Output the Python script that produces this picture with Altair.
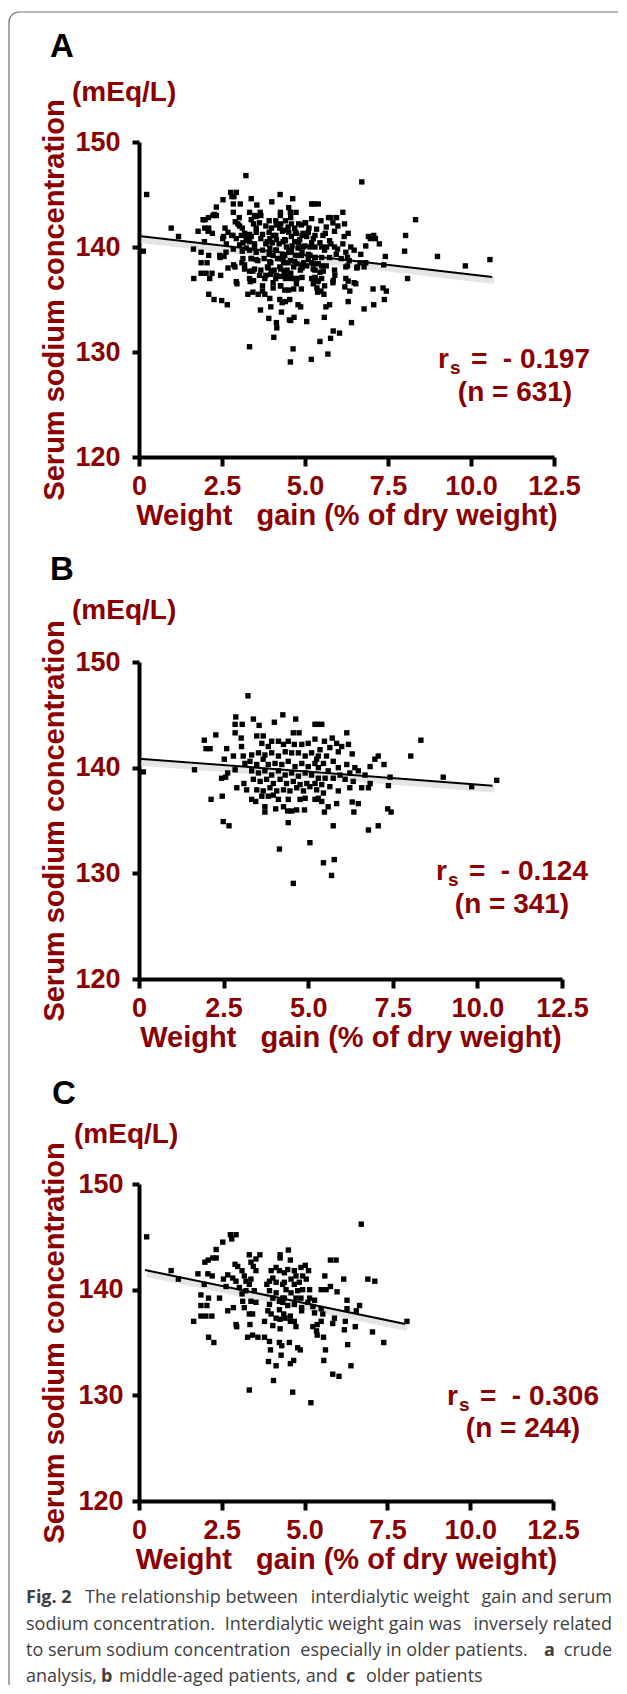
import altair as alt
import pandas as pd

# ---------------- data ----------------
# Panel C (older patients)
c_x = [0.23, 0.97, 1.19, 1.78, 1.99, 2.09, 2.33, 2.53, 2.76, 2.93, 2.80, 2.23, 2.33, 2.08, 2.21,
       1.97, 1.87, 2.10, 2.43, 1.87, 2.05, 1.87, 2.02, 2.20, 1.65, 2.10, 2.26, 2.68, 2.85, 2.93,
       2.95, 2.55, 2.63, 2.68, 2.83, 2.90, 2.98, 2.93, 3.03, 3.11, 3.13, 3.18, 3.11, 3.18, 3.23,
       3.33, 3.38, 3.45, 3.53, 3.65, 3.53, 3.38, 3.33, 3.23, 3.48, 3.38, 3.53, 3.33, 3.43, 3.35,
       3.28, 3.43, 3.59, 3.79, 3.33, 3.79, 3.89, 3.94, 3.99, 4.04, 3.94, 3.86, 3.94, 4.04, 4.14,
       3.99, 4.14, 4.26, 4.26, 4.24, 4.34, 4.14, 4.24, 4.24, 4.14, 4.26, 4.04, 4.26, 3.94, 4.24,
       4.31, 3.97, 4.29, 3.91, 4.14, 4.06, 4.34,
       6.71, 4.51, 4.57, 5.78, 5.95, 5.02, 5.12, 4.89, 4.69, 4.49, 4.39, 4.74, 4.94, 5.05, 4.59,
       4.69, 4.84, 4.39, 4.44, 4.59, 4.79, 4.94, 5.15, 5.61, 5.50, 5.65, 5.78, 5.98, 6.18, 6.91,
       7.12, 4.39, 4.74, 4.89, 5.15, 5.30, 6.28, 6.66, 4.34, 4.49, 4.69, 4.91, 5.10, 5.25, 5.50,
       6.28, 6.56, 4.91, 4.37, 4.57, 5.30, 5.55, 4.41, 4.57, 4.69, 5.50, 5.90, 6.23, 5.85, 4.74,
       5.25, 5.38, 6.20, 6.53, 5.36, 5.38, 5.57, 7.05, 7.39, 4.54, 4.79, 4.87, 5.63, 6.30, 4.67,
       4.57, 5.58, 6.40, 5.85, 6.04, 4.64, 5.19, 8.09]
c_y = [145.0, 141.8, 141.0, 141.5, 142.6, 142.8, 143.8, 144.5, 145.2, 145.2, 144.8, 143.0, 143.0, 141.5, 141.3,
       140.5, 139.5, 139.2, 139.2, 138.5, 138.5, 137.5, 137.5, 137.5, 137.0, 135.5, 135.0, 138.0, 138.3, 136.7,
       136.5, 141.0, 140.3, 141.4, 141.1, 142.4, 142.2, 140.8, 140.2, 139.6, 138.9, 138.3, 141.8, 141.3, 140.8,
       143.3, 142.6, 142.2, 142.9, 143.3, 141.8, 141.0, 140.5, 139.9, 139.9, 138.9, 138.8, 137.7, 137.7, 136.7,
       135.5, 135.7, 135.5, 135.5, 130.5, 137.0, 138.0, 138.6, 137.7, 139.2, 139.9, 140.5, 140.8, 141.1, 140.7,
       141.8, 142.1, 143.3, 143.0, 141.8, 140.5, 139.7, 138.9, 138.1, 137.3, 137.2, 136.6, 136.3, 135.1, 135.0,
       134.7, 134.3, 133.8, 133.2, 132.8, 131.4, 139.2,
       146.2, 143.75, 142.8, 142.8, 142.8, 142.3, 141.8, 142.1, 141.8, 141.9, 141.6, 141.3, 141.3, 141.0, 141.0,
       140.5, 140.7, 140.7, 140.0, 139.7, 139.9, 140.0, 140.0, 141.3, 140.0, 140.0, 140.3, 139.8, 141.0, 141.0,
       140.8, 139.2, 139.2, 139.2, 139.2, 139.0, 139.0, 138.5, 138.8, 138.5, 138.6, 138.3, 138.8, 138.4, 138.2,
       138.2, 138.0, 138.0, 137.7, 137.5, 137.8, 137.7, 137.3, 137.0, 137.0, 137.0, 137.3, 137.0, 136.8, 136.5,
       136.5, 136.7, 136.2, 136.5, 136.1, 135.7, 135.5, 136.0, 135.0, 135.0, 134.5, 134.3, 134.3, 134.8, 133.3,
       133.0, 133.3, 132.8, 132.0, 131.8, 130.3, 129.3, 137.0]

# Panel B (middle-aged patients)
b_x = [0.13, 1.64, 1.93, 1.98, 2.10, 2.27, 2.13, 2.46, 2.59, 2.52, 2.44, 2.56, 2.62, 2.49, 2.66,
       2.79, 2.84, 2.89, 2.86, 2.84, 3.05, 2.84, 3.02, 3.03, 3.08, 3.13, 3.10, 3.18, 3.38, 3.55,
       4.00, 4.25, 4.63, 4.56, 4.73, 5.20, 5.28, 3.48, 3.67, 3.63, 3.82, 3.92, 4.12, 4.27, 4.41,
       4.59, 4.81, 5.00, 5.20,
       3.33, 3.53, 3.72, 3.92, 4.12, 4.32, 4.51, 4.71, 4.91, 5.10, 5.30,
       3.28, 3.48, 3.67, 3.82, 4.02, 4.22, 4.41, 4.61, 4.81, 5.00, 5.20,
       3.33, 3.53, 3.72, 3.92, 4.12, 4.32, 4.51, 4.71, 4.91, 5.10,
       3.38, 3.58, 3.77, 3.97, 4.17, 4.36, 4.56, 4.76, 4.96, 5.20,
       3.48, 3.67, 3.87, 4.07, 4.27, 4.46, 4.66, 4.86, 5.05,
       3.33, 3.45, 3.63, 3.82, 3.97, 4.12, 4.41, 4.76, 4.91, 5.20, 5.30,
       3.72, 3.72, 4.04, 4.27, 4.39, 4.51, 4.66, 4.89,
       4.41, 5.05, 4.15, 4.56, 3.22,
       5.40, 6.14, 8.33, 5.71, 5.48, 5.84, 5.99, 6.19, 5.64, 5.35, 5.89, 6.30, 5.54, 7.07, 6.97,
       8.03, 5.25, 5.45, 5.74, 6.14, 6.83, 7.24, 5.30, 5.59, 5.89, 6.38, 6.48, 5.94, 6.23, 6.68,
       7.42, 8.99, 10.57, 9.83, 5.30, 5.50, 5.74, 6.09, 6.33, 6.83, 7.37, 5.40, 5.64, 6.23, 6.58,
       6.78, 5.25, 5.89, 5.45, 5.30, 5.40, 5.84, 5.59, 6.30, 6.48, 5.48, 6.35, 7.35, 7.45, 5.74,
       7.07, 6.78, 5.45, 5.77, 5.69]
b_y = [139.6, 139.8, 142.6, 141.8, 141.8, 143.1, 137.0, 137.3, 141.8, 140.8, 139.0, 139.1, 139.5, 134.9, 134.5,
       141.1, 139.8, 138.1, 144.8, 144.1, 144.1, 143.3, 142.8, 142.0, 141.1, 140.4, 138.5, 137.9, 144.6, 144.0,
       144.3, 145.0, 144.6, 143.3, 143.3, 144.1, 144.1, 143.0, 143.0, 142.3, 142.0, 142.5, 142.5, 142.2, 142.5,
       142.2, 142.2, 142.3, 142.7,
       141.2, 141.4, 141.2, 141.4, 141.1, 141.5, 141.4, 141.4, 141.1, 141.4, 141.1,
       140.6, 140.3, 140.8, 140.3, 140.4, 140.3, 140.6, 140.1, 140.4, 140.1, 140.4,
       139.7, 139.5, 139.7, 139.3, 139.7, 139.3, 139.5, 139.2, 139.5, 139.3,
       138.9, 138.7, 138.9, 138.5, 138.9, 138.5, 138.7, 138.4, 138.5, 138.5,
       137.9, 137.8, 138.1, 137.8, 137.9, 137.8, 138.1, 137.8, 138.2,
       137.0, 136.8, 137.3, 137.3, 137.4, 137.0, 137.0, 137.0, 137.1, 137.0, 137.1,
       136.3, 135.8, 136.1, 136.3, 135.9, 135.9, 136.0, 136.0,
       134.8, 132.9, 132.3, 129.05, 146.8,
       144.1, 143.3, 142.6, 142.8, 142.5, 142.3, 142.0, 142.2, 141.9, 141.7, 141.5, 141.3, 141.1, 141.1, 140.8,
       141.1, 140.8, 140.4, 140.6, 140.3, 140.1, 140.3, 140.0, 139.7, 140.0, 140.0, 139.7, 139.3, 139.5, 139.3,
       139.1, 139.1, 138.8, 138.2, 139.0, 139.0, 139.0, 138.9, 138.7, 138.5, 138.3, 138.4, 138.2, 138.1, 138.1,
       138.1, 137.9, 137.8, 137.6, 137.0, 136.8, 136.6, 136.3, 136.75, 136.6, 135.8, 135.8, 136.1, 135.8, 134.5,
       134.5, 134.1, 131.0, 131.3, 129.8]

# Panel A (crude analysis) = both groups plus a few further points seen only in A
a_extra_x = [8.0, 3.66, 4.53]
a_extra_y = [139.6, 134.0, 133.05]
a_x = b_x + c_x + a_extra_x
a_y = b_y + c_y + a_extra_y

# Regression lines (end points)
a_line_x, a_line_y = [0.0, 10.64], [141.05, 137.15]
b_line_x, b_line_y = [0.0, 10.45], [140.85, 138.3]
c_line_x, c_line_y = [0.18, 8.04], [141.86, 136.75]

panel_letters = ["A", "B", "C"]
rs_values = ["- 0.197", "- 0.124", "- 0.306"]
n_values = ["631", "341", "244"]

x_ticks = [0, 2.5, 5.0, 7.5, 10.0, 12.5]
y_ticks = [120, 130, 140, 150]
x_title = "Weight\u00a0\u00a0 gain (% of dry weight)"
y_title = "Serum sodium concentration"
unit_label = "(mEq/L)"

# caption, as (text, bold) chunks per line
caption_chunks = [
    [("Fig. 2", True), ("The relationship between", False), ("interdialytic weight", False),
     ("gain and serum", False)],
    [("sodium concentration.", False), ("Interdialytic weight gain was", False),
     ("inversely related", False)],
    [("to serum sodium concentration", False), ("especially in older patients.", False),
     ("a", True), ("crude", False)],
    [("analysis,", False), ("b", True), ("middle-aged patients, and", False), ("c", True),
     ("older patients", False)],
]

# ---------------- layout / styling ----------------
RED = "#8b0000"
FONT = "Liberation Sans"
CAP_FONT = "Open Sans"
CAP_COLOR = "#404040"
CAP_SIZE = 18

# caption chunk anchors (pixels relative to panel C plot origin): (x, align)
caption_pos = [
    [(-113, "left"), (-54, "left"), (251, "center"), (473, "right")],
    [(-113, "left"), (204, "center"), (473, "right")],
    [(-113, "left"), (275, "center"), (405, "left"), (473, "right")],
    [(-113, "left"), (-38, "left"), (-20, "left"), (207, "left"), (227, "left")],
]
caption_base = [419, 446, 472, 498]

xs = alt.Scale(domain=[0, 12.5], nice=False, zero=False)
ys = alt.Scale(domain=[120, 150], nice=False, zero=False)


def txt(s, x, y, size, color=RED, weight="bold", align="left", baseline="alphabetic", font=FONT):
    return alt.Chart(pd.DataFrame({"t": [s]})).mark_text(
        align=align, baseline=baseline, fontSize=size, fontWeight=weight, font=font, color=color
    ).encode(x=alt.value(x), y=alt.value(y), text="t:N")


def panel(px, py, lx, ly, idx, letter_pos, unit_pos, ann, y_label_pad, y_title_pad):
    x_axis = alt.Axis(values=x_ticks, title=x_title, labelFlush=False, labelOverlap=False,
                      labelExpr="datum.value == 0 ? '0' : format(datum.value, '.1f')")
    y_axis = alt.Axis(values=y_ticks, title=y_title, labelFlush=False, labelOverlap=False,
                      format="d", labelPadding=y_label_pad, titlePadding=y_title_pad)
    pts = pd.DataFrame({"x": px, "y": py})
    ln = pd.DataFrame({"x": lx, "y": ly})
    X = alt.X("x:Q", scale=xs, axis=x_axis)
    Y = alt.Y("y:Q", scale=ys, axis=y_axis)
    points = alt.Chart(pts).mark_square(size=29, color="black", opacity=1).encode(x=X, y=Y)
    shadow = alt.Chart(ln).mark_line(color="#cfcfcf", strokeWidth=6, opacity=0.55,
                                     yOffset=4, xOffset=2).encode(x=X, y=Y)
    line = alt.Chart(ln).mark_line(color="black", strokeWidth=2).encode(x=X, y=Y)
    rx, rb, rest_right, ncx, nb = ann
    return [
        shadow, line, points,
        txt(panel_letters[idx], letter_pos[0], letter_pos[1], 33, color="black"),
        txt(unit_label, unit_pos[0], unit_pos[1], 28, baseline="middle"),
        txt("r", rx, rb, 28),
        txt("s", rx + 12, rb + 6, 19),
        txt("=\u00a0 " + rs_values[idx], rest_right, rb, 28, align="right"),
        txt("(n = " + n_values[idx] + ")", ncx, nb, 28, align="center"),
    ]


A_layers = panel(a_x, a_y, a_line_x, a_line_y, 0, (-89, -85), (-67, -49),
                 (299, 226, 451, 376, 259), 12, 5)
B_layers = panel(b_x, b_y, b_line_x, b_line_y, 1, (-89, -82), (-67, -51),
                 (297, 218, 449, 373, 251), 12, 5)
C_layers = panel(c_x, c_y, c_line_x, c_line_y, 2, (-87, -80), (-65, -49),
                 (308, 221, 460, 384, 253), 9, 8)

# figure frame (journal box) drawn in panel A's pixel coordinates;
# kept inside the page's 611 px content width so the drawing is not rescaled
FRAME = "#6f6f6f"
frame_src = pd.DataFrame({"t": [""]})
frame = [
    alt.Chart(frame_src).mark_rule(color=FRAME, strokeWidth=1.2).encode(
        x=alt.value(-120), x2=alt.value(479), y=alt.value(-130)),
    alt.Chart(frame_src).mark_rule(color=FRAME, strokeWidth=1.2).encode(
        x=alt.value(-130), y=alt.value(-120), y2=alt.value(1543)),
    alt.Chart(frame_src).mark_arc(color=FRAME, theta=4.71239, theta2=6.28318,
                                  radius=10.6, radius2=9.4).encode(
        x=alt.value(-120), y=alt.value(-120)),
]

# caption in panel C's pixel coordinates
cap = []
for line_chunks, line_pos, base in zip(caption_chunks, caption_pos, caption_base):
    for (s, bold), (x, align) in zip(line_chunks, line_pos):
        cap.append(txt(s, x, base, CAP_SIZE, color=CAP_COLOR,
                       weight="bold" if bold else "normal", align=align, font=CAP_FONT))

pA = alt.layer(*(frame + A_layers)).properties(width=415, height=315)
pB = alt.layer(*B_layers).properties(width=423, height=317)
pC = alt.layer(*(C_layers + cap)).properties(width=414, height=317)

chart = alt.vconcat(pA, pB, pC, spacing=205, bounds="flush").properties(
    padding={"left": 0, "top": 3, "right": 0, "bottom": 0}
).configure_view(stroke=None).configure_axis(
    grid=False, domainColor="black", domainWidth=4, tickColor="black", tickWidth=4,
    labelColor=RED, labelFont=FONT, labelFontWeight="bold", labelFontSize=27,
    titleColor=RED, titleFont=FONT, titleFontWeight="bold", titleFontSize=29,
).configure_axisX(tickSize=9, labelPadding=7, titlePadding=2
).configure_axisY(tickSize=7)

chart.save("out.html", embed_options={"renderer": "svg", "actions": False})
